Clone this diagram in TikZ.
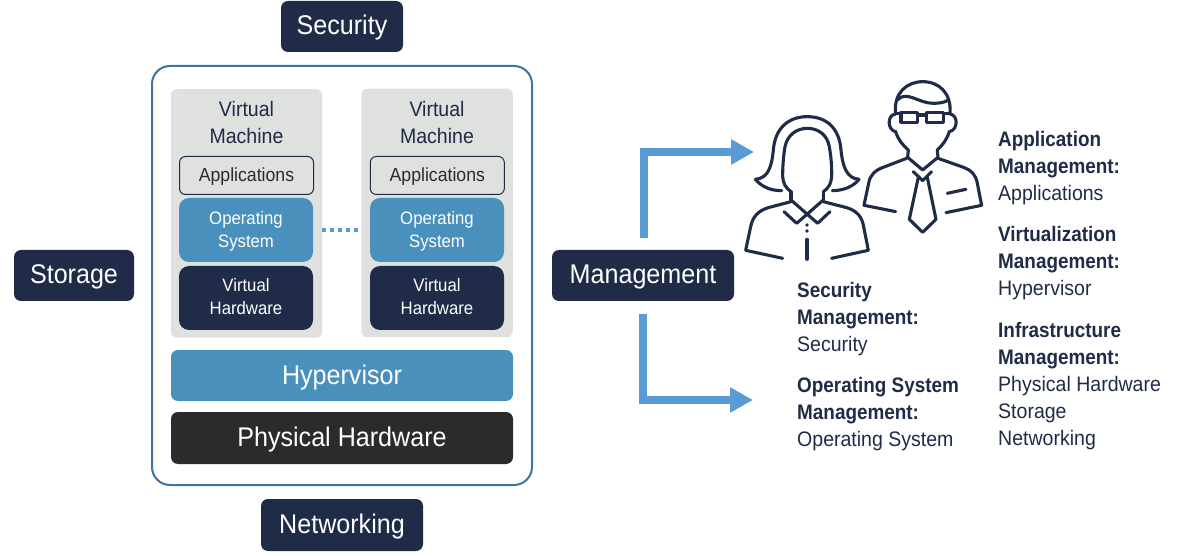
\documentclass[tikz,border=0pt]{standalone}
\usepackage{fontspec}
\setmainfont{Liberation Sans}[FakeStretch=0.93,BoldFeatures={FakeStretch=0.9}]
\usetikzlibrary{arrows.meta}
\definecolor{navy}{HTML}{1F2B47}
\definecolor{steel}{HTML}{4A90BC}
\definecolor{coal}{HTML}{2D2A2A}
\definecolor{vmgray}{HTML}{DFE1DF}
\definecolor{frame}{HTML}{3F72A6}
\definecolor{flow}{HTML}{5B9BD5}
\newcommand{\fs}[2]{\fontsize{#1}{#2}\selectfont}
\tikzset{
  box/.style={inner sep=0pt, align=center, anchor=center},
  tag/.style={box, fill=navy, rounded corners=7pt, text=white, font=\fs{27}{32}, text height=20pt, text depth=3pt},
  vmbox/.style={box, fill=vmgray, rounded corners=6pt, minimum width=151.5pt, minimum height=248.5pt},
  vmtitle/.style={box, text=navy, font=\fs{21}{27}},
  appbox/.style={box, draw=navy, line width=1pt, fill=vmgray, rounded corners=6pt, minimum width=134pt, minimum height=38pt, text=coal, font=\fs{19}{22}, text height=14pt, text depth=1pt},
  panel/.style={box, rounded corners=10pt, minimum width=134pt, minimum height=64pt},
  caption/.style={box, text=white, font=\fs{18}{23}},
  layer/.style={box, rounded corners=7pt, minimum width=342pt, text=white, font=\fs{27}{32}, text height=20pt, text depth=3pt},
  role/.style={inner sep=0pt, anchor=north west, align=left, text=navy, font=\fs{21}{27}},
  flowline/.style={draw=flow, line width=8pt, -{Triangle[length=23pt,width=24pt]}},
  link/.style={draw=flow, line width=4pt, dash pattern=on 4pt off 4pt},
  icon/.style={draw=navy, line width=3.1pt, line cap=round, line join=round}
}
\begin{document}
\begin{tikzpicture}[x=1pt,y=-1pt]
\useasboundingbox (0,0) rectangle (1179,556);

% outer host frame
\node[box, draw=frame, line width=2pt, fill=white, rounded corners=18pt, minimum width=380pt, minimum height=419pt] (host) at (342,275.5) {};

% surrounding service tags
\node[tag, minimum width=122pt, minimum height=51pt] (security) at (342,26.5) {Security};
\node[tag, minimum width=120pt, minimum height=51pt] (storage) at (74,275.5) {Storage};
\node[tag, minimum width=162pt, minimum height=52pt] (networking) at (342,525) {Networking};
\node[tag, minimum width=182pt, minimum height=51pt] (management) at (643,275.5) {Management};

% left virtual machine
\node[vmbox] (vma) at (246.5,213.5) {};
\node[vmtitle] (vmat) at (246.5,122.5) {Virtual\\Machine};
\node[appbox] (appa) at (246.5,175.5) {Applications};
\node[panel, fill=steel] (osa) at (246,230) {};
\node[caption] (osat) at (246,231) {Operating\\System};
\node[panel, fill=navy] (vha) at (246,298) {};
\node[caption] (vhat) at (246,296.5) {Virtual\\Hardware};

% right virtual machine
\node[vmbox] (vmb) at (437,213) {};
\node[vmtitle] (vmbt) at (437,122.5) {Virtual\\Machine};
\node[appbox] (appb) at (437.3,175.5) {Applications};
\node[panel, fill=steel] (osb) at (437,230) {};
\node[caption] (osbt) at (437,231) {Operating\\System};
\node[panel, fill=navy] (vhb) at (437,298) {};
\node[caption] (vhbt) at (437,296.5) {Virtual\\Hardware};

\draw[link] (vma.east |- osa) -- (vmb.west |- osb);

% shared layers
\node[layer, fill=steel, minimum height=51pt] (hyper) at (342,375.5) {Hypervisor};
\node[layer, fill=coal, minimum height=52pt] (phys) at (342,438) {Physical Hardware};

% management flows
\coordinate (upstart) at (644,238);
\coordinate (uptarget) at (754,152);
\coordinate (downstart) at (643,314);
\coordinate (downtarget) at (753,400);
\draw[flowline] (upstart) |- (uptarget);
\draw[flowline] (downstart) |- (downtarget);

% two administrators, line icons
\begin{scope}[shift={(730,70)}, x=0.3333pt, y=-0.3333pt]
  % woman: hair
  \draw[icon] (155,362) .. controls (120,362) and (95,350) .. (76,328)
    .. controls (115,325) and (125,290) .. (130,240)
    .. controls (135,175) and (175,140) .. (232,140)
    .. controls (290,140) and (328,175) .. (333,240)
    .. controls (338,290) and (350,325) .. (387,328)
    .. controls (370,350) and (340,362) .. (307,362);
  % woman: face
  \draw[icon] (183,365) .. controls (165,352) and (160,340) .. (158,320)
    .. controls (158,290) and (160,260) .. (165,230)
    .. controls (172,195) and (200,175) .. (232,175)
    .. controls (265,175) and (292,195) .. (298,230)
    .. controls (303,260) and (306,290) .. (305,320)
    .. controls (303,340) and (298,352) .. (280,365);
  \draw[icon] (183,365) -- (183,392);
  \draw[icon] (280,365) -- (280,392);
  % woman: collar
  \draw[icon] (183,390) -- (263,460) -- (300,425);
  \draw[icon] (280,390) -- (200,460) -- (162,425);
  % woman: shoulders
  \draw[icon] (183,395) -- (115,413) .. controls (85,422) and (68,440) .. (62,470) -- (47,541) -- (158,565);
  \draw[icon] (280,395) -- (350,413) .. controls (380,422) and (396,440) .. (401,470) -- (415,541) -- (305,565);
  % woman: buttons and placket
  \fill[navy] (231,465) circle (5.5);
  \fill[navy] (231,483) circle (5.5);
  \draw[icon] (231,508) -- (231,568);

  % man: head and hair
  \draw[icon] (497,130) .. controls (490,70) and (530,35) .. (578,35)
    .. controls (628,35) and (665,70) .. (660,130);
  \draw[icon] (502,90) .. controls (530,60) and (565,100) .. (610,100)
    .. controls (630,100) and (645,97) .. (655,90);
  % man: glasses
  \draw[icon] (513,127) rectangle (563,157);
  \draw[icon] (590,127) rectangle (640,157);
  \draw[icon] (563,135) -- (590,135);
  \draw[icon] (497,130) -- (513,130);
  \draw[icon] (640,130) -- (660,130);
  % man: ears and jaw
  \draw[icon] (497,132) .. controls (470,135) and (472,180) .. (497,185)
    .. controls (505,210) and (518,225) .. (535,240) -- (533,262);
  \draw[icon] (660,132) .. controls (685,135) and (685,180) .. (658,185)
    .. controls (650,210) and (638,225) .. (622,240) -- (624,262);
  % man: collar and shoulders
  \draw[icon] (533,262) -- (578,300) -- (624,262);
  \draw[icon] (530,265) -- (465,290) .. controls (435,300) and (420,315) .. (416,340) -- (402,406) -- (497,425);
  \draw[icon] (624,265) -- (695,290) .. controls (725,300) and (738,315) .. (742,340) -- (755,406) -- (648,428);
  \draw[icon] (652,370) -- (708,358);
  % man: tie
  \draw[icon] (550,305) -- (578,332) -- (605,305);
  \draw[icon] (565,322) -- (538,448) -- (578,487) -- (618,448) -- (592,322);
\end{scope}

% responsibilities
\node[role] (rsec) at (797,282) {\textbf{Security}\\\textbf{Management:}\\Security};
\node[role] (ros) at (797,377) {\textbf{Operating System}\\\textbf{Management:}\\Operating System};
\node[role] (rapp) at (998,131) {\textbf{Application}\\\textbf{Management:}\\Applications};
\node[role] (rvirt) at (998,226) {\textbf{Virtualization}\\\textbf{Management:}\\Hypervisor};
\node[role] (rinfra) at (998,322) {\textbf{Infrastructure}\\\textbf{Management:}\\Physical Hardware\\Storage\\Networking};
\end{tikzpicture}
\end{document}
